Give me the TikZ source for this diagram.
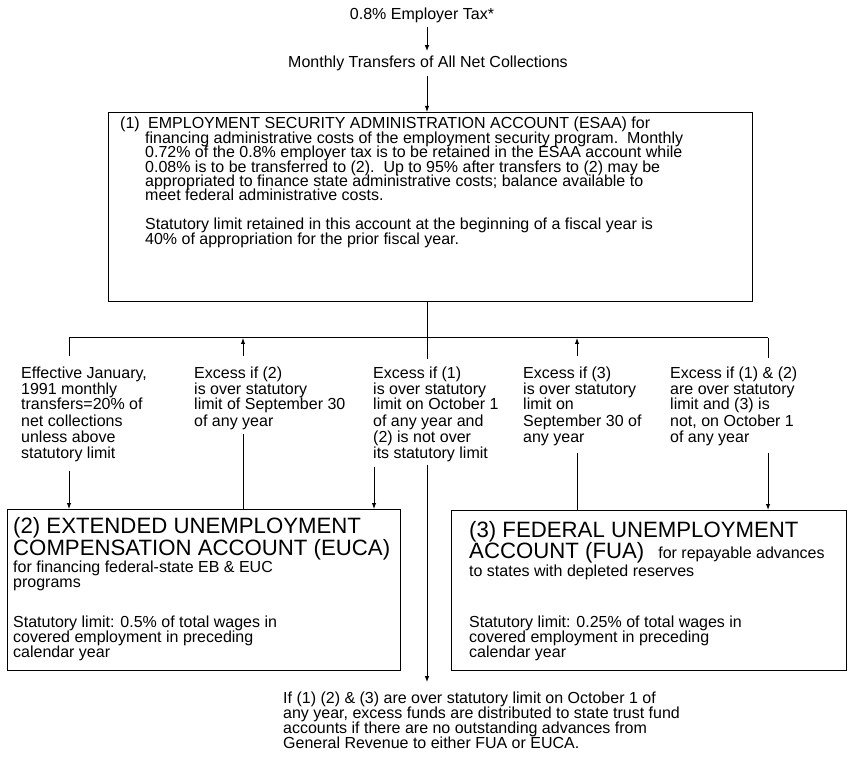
\documentclass[tikz,border=0pt]{standalone}
\usepackage{fontspec}
\setmainfont{Liberation Sans}
\usetikzlibrary{arrows.meta,calc}
\newcommand\lns[1]{\vtop{\lineskiplimit=-1000pt\halign{##\hfil\cr#1\crcr}}}
\begin{document}
\begin{tikzpicture}[x=1pt,y=-1pt,
  txt/.style={font=\fontsize{16}{16}\selectfont, inner sep=0pt, anchor=base west},
  boxtxt/.style={font=\fontsize{16}{14.4}\selectfont, inner sep=0pt, anchor=base west},
  smalltxt/.style={font=\fontsize{16}{15}\selectfont, inner sep=0pt, anchor=base west},
  head/.style={font=\fontsize{22.2}{22}\selectfont, inner sep=0pt, anchor=base west},
  acc/.style={draw, line width=1pt, inner sep=0pt, anchor=north west},
  ln/.style={line width=1pt},
  arr/.style={line width=1pt, -{Latex[length=6pt,width=4.5pt]}}]
\useasboundingbox (0,0) rectangle (849,759);

% column coordinates
\coordinate (cx) at (427,0);
\coordinate (c374) at (374,0);
\coordinate (jL) at (69,338);
\coordinate (j2) at (243,338);
\coordinate (j4) at (577,338);
\coordinate (jR) at (768,338);

% top texts
\node[txt, anchor=base] (tax) at (422,20) {0.8\% Employer Tax*};
\node[txt, anchor=base] (mon) at (428,68) {Monthly Transfers of All Net Collections};

% accounts
\node[acc, minimum width=644pt, minimum height=189pt] (esaa) at (108,112) {};
\node[acc, minimum width=393pt, minimum height=161pt] (euca) at (7,509) {};
\node[acc, minimum width=395pt, minimum height=160pt] (fua) at (451,510) {};

\node[boxtxt] (esaat) at (120,129) {\lns{\makebox[28pt][l]{(1)}EMPLOYMENT SECURITY ADMINISTRATION ACCOUNT (ESAA) for\cr
\hspace*{25pt}financing administrative costs of the employment security program.\ \ Monthly\cr
\hspace*{25pt}0.72\% of the 0.8\% employer tax is to be retained in the ESAA account while\cr
\hspace*{25pt}0.08\% is to be transferred to (2).\ \ Up to 95\% after transfers to (2) may be\cr
\hspace*{25pt}appropriated to finance state administrative costs; balance available to\cr
\hspace*{25pt}meet federal administrative costs.\cr\noalign{\vskip14.4pt}
\hspace*{25pt}Statutory limit retained in this account at the beginning of a fiscal year is\cr
\hspace*{25pt}40\% of appropriation for the prior fiscal year.}};

\node[head] (euh) at (13,533) {\lns{(2) EXTENDED UNEMPLOYMENT\cr COMPENSATION ACCOUNT (EUCA)}};
\node[smalltxt] (eus) at (13,572) {\lns{for financing federal-state EB \& EUC\cr programs}};
\node[smalltxt] (eul) at (13,627) {\lns{Statutory limit: 0.5\% of total wages in\cr covered employment in preceding\cr calendar year}};

\node[head, font=\fontsize{22.2}{21}\selectfont] (fuh) at (469,537) {\lns{(3) FEDERAL UNEMPLOYMENT\cr ACCOUNT (FUA)\hspace{14pt}{\fontsize{16}{15}\selectfont for repayable advances}}};
\node[smalltxt] (fus) at (469,576) {to states with depleted reserves};
\node[smalltxt] (ful) at (469,627) {\lns{Statutory limit: 0.25\% of total wages in\cr covered employment in preceding\cr calendar year}};

% labels
\node[txt] (l1) at (21,378) {\lns{Effective January,\cr 1991 monthly\cr transfers=20\% of\cr net collections\cr unless above\cr statutory limit}};
\node[txt] (l2) at (194,378) {\lns{Excess if (2)\cr is over statutory\cr limit of September 30\cr of any year}};
\node[txt] (l3) at (373,378) {\lns{Excess if (1)\cr is over statutory\cr limit on October 1\cr of any year and\cr (2) is not over\cr its statutory limit}};
\node[txt] (l4) at (523,378) {\lns{Excess if (3)\cr is over statutory\cr limit on\cr September 30 of\cr any year}};
\node[txt] (l5) at (670,378) {\lns{Excess if (1) \& (2)\cr are over statutory\cr limit and (3) is\cr not, on October 1\cr of any year}};

\node[smalltxt] (bot) at (283,703) {\lns{If (1) (2) \& (3) are over statutory limit on October 1 of\cr any year, excess funds are distributed to state trust fund\cr accounts if there are no outstanding advances from\cr General Revenue to either FUA or EUCA.}};

% connectors
\draw[arr, shorten <=3pt, shorten >=5pt] (tax.south -| cx) -- (mon.north -| cx);
\draw[arr, shorten <=4pt] (mon.south -| cx) -- (esaa.north -| cx);
\draw[ln, shorten >=7pt] (esaa.south -| cx) -- (l3.north -| cx);
\draw[ln] (jL) -- (jR);
\draw[ln, shorten >=10pt] (jL) -- (l1.north -| jL);
\draw[arr, shorten <=9pt] (l1.south -| jL) -- (euca.north -| jL);
\draw[arr, shorten <=10pt] (l2.north -| j2) -- (j2);
\draw[ln, shorten >=4pt] (euca.north -| j2) -- (l2.south -| j2);
\draw[arr, shorten <=5pt] (l3.south -| c374) -- (euca.north -| c374);
\draw[arr, shorten <=3pt, shorten >=9pt] (l3.south -| cx) -- (bot.north -| cx);
\draw[arr, shorten <=10pt] (l4.north -| j4) -- (j4);
\draw[ln, shorten >=7pt] (fua.north -| j4) -- (l4.south -| j4);
\draw[ln, shorten >=8pt] (jR) -- (l5.north -| jR);
\draw[arr, shorten <=7pt] (l5.south -| jR) -- (fua.north -| jR);
\end{tikzpicture}
\end{document}
